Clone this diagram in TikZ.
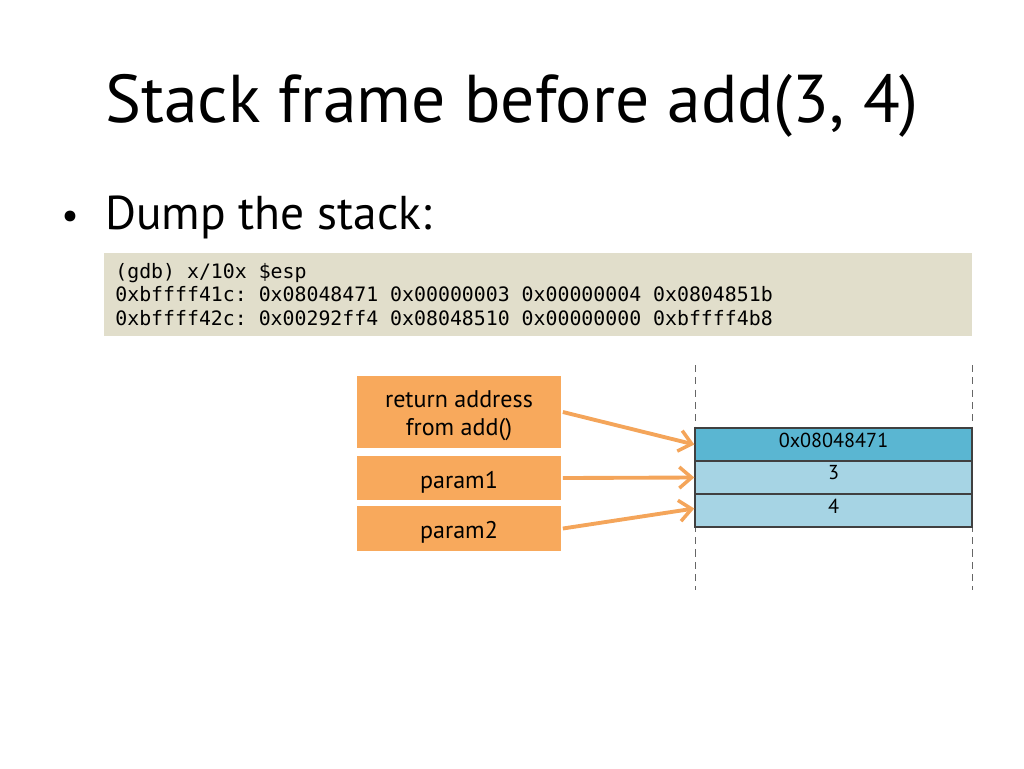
\documentclass[tikz,border=0pt]{standalone}
\usepackage{fontspec}
\setmainfont{PT Sans}
\setmonofont{DejaVu Sans Mono}
\usetikzlibrary{arrows.meta}
\definecolor{dumpbg}{HTML}{E1DECB}
\definecolor{argfill}{HTML}{F8A95C}
\definecolor{argline}{HTML}{F4A55A}
\definecolor{topcell}{HTML}{5AB6D2}
\definecolor{lowcell}{HTML}{A6D4E4}
\tikzset{
  argbox/.style={fill=argfill, draw=white, line width=1pt, minimum width=206\tikzunit, inner sep=0pt},
  argtext/.style={align=center, inner sep=0pt, yshift=-4\tikzunit, font=\fontsize{13.7}{16}\selectfont},
  cell/.style={draw=black!75, line width=0.8pt, minimum width=277\tikzunit, minimum height=33\tikzunit, inner sep=0pt},
  celltext/.style={anchor=north, inner sep=0pt, yshift=-5\tikzunit, font=\fontsize{11.5}{14}\selectfont},
  dumpline/.style={anchor=base west, inner sep=0pt, font=\ttfamily\fontsize{11.3}{14}\selectfont},
  pointer/.style={draw=argline, line width=2.2pt, -{Straight Barb[length=7pt,width=12pt,line width=2pt]}},
  frame/.style={black!60, dash pattern=on 4pt off 3pt, line width=0.5pt}
}
\newcommand{\tikzunit}{*0.02cm}
\begin{document}
\begin{tikzpicture}[x=0.02cm, y=-0.02cm]
    \useasboundingbox (0,0) rectangle (1024,768);
    % Title and bullet
    \node[anchor=base west, inner sep=0pt, font=\fontsize{38.5}{46}\selectfont] (title) at (105,122) {Stack frame before add(3, 4)};
    \node[anchor=base west, inner sep=0pt, font=\fontsize{22}{26}\selectfont] (bullet) at (61,228) {\textbullet};
    \node[anchor=base west, inner sep=0pt, font=\fontsize{27}{32}\selectfont] (dump) at (105,229) {Dump the stack:};

    % gdb output
    \fill[dumpbg] (104,253) rectangle (972,336);
    \node[dumpline] (gdb1) at (115,278) {(gdb) x/10x \$esp};
    \node[dumpline] (gdb2) at (115,301) {0xbffff41c: 0x08048471 0x00000003 0x00000004 0x0804851b};
    \node[dumpline] (gdb3) at (115,325) {0xbffff42c: 0x00292ff4 0x08048510 0x00000000 0xbffff4b8};

    % Stack frame borders
    \draw[frame] (695,365) -- (695,590);
    \draw[frame] (972,365) -- (972,590);

    % Stack cells
    \node[cell, fill=topcell] (ret) at (833.5,444.5) {};
    \node[cell, fill=lowcell] (p1) at (833.5,477.5) {};
    \node[cell, fill=lowcell] (p2) at (833.5,510.5) {};
    \node[celltext] (rettext) at (ret.north) {0x08048471};
    \node[celltext] (p1text) at (p1.north) {3};
    \node[celltext] (p2text) at (p2.north) {4};

    % Labels
    \node[argbox, minimum height=73\tikzunit] (retlabel) at (459,412) {};
    \node[argbox, minimum height=46\tikzunit] (p1label) at (459,478) {};
    \node[argbox, minimum height=46\tikzunit] (p2label) at (459,528.5) {};
    \node[argtext] (rettag) at (retlabel.center) {return address\\from add()};
    \node[argtext] (p1tag) at (p1label.center) {param1};
    \node[argtext] (p2tag) at (p2label.center) {param2};

    % Pointers
    \draw[pointer] (retlabel.east) -- (ret.west);
    \draw[pointer] (p1label.east) -- (p1.west);
    \draw[pointer] (p2label.east) -- ([yshift=2\tikzunit]p2.west);
\end{tikzpicture}
\end{document}
